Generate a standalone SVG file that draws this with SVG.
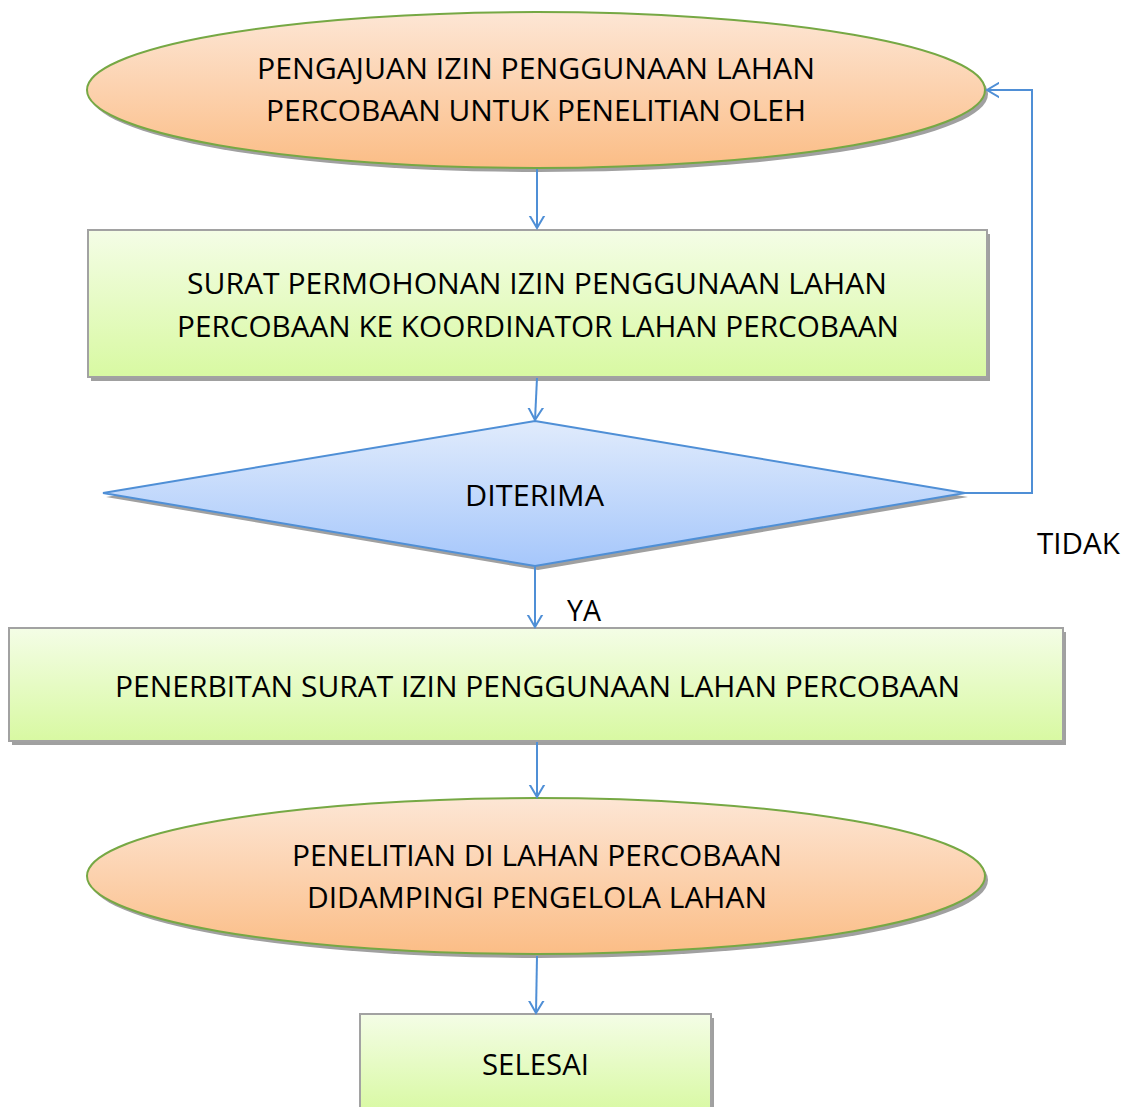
<svg xmlns="http://www.w3.org/2000/svg" width="1126" height="1107" viewBox="0 0 1126 1107">
<style>
.t{font-family:"Open Sans","Liberation Sans",sans-serif;font-size:29px;fill:#000;text-anchor:middle}
.sh{fill:#a0a0a0}
.oval{fill:url(#gO);stroke:#76a844;stroke-width:2}
.box{fill:url(#gG);stroke:#a2a2a2;stroke-width:2}
.dia{fill:url(#gB);stroke:#4f8fd6;stroke-width:2}
.c{fill:none;stroke:#4f8fd6;stroke-width:2;marker-end:url(#ah)}
</style>
<defs>
<linearGradient id="gO" x1="0" y1="0" x2="0" y2="1"><stop offset="0" stop-color="#fde6d5"/><stop offset="1" stop-color="#fbbd86"/></linearGradient>
<linearGradient id="gG" x1="0" y1="0" x2="0" y2="1"><stop offset="0" stop-color="#f4fde6"/><stop offset="1" stop-color="#d8f9a2"/></linearGradient>
<linearGradient id="gB" x1="0" y1="0" x2="0" y2="1"><stop offset="0" stop-color="#e0ebfc"/><stop offset="1" stop-color="#a6c7fb"/></linearGradient>
<marker id="ah" markerUnits="userSpaceOnUse" markerWidth="24" markerHeight="24" viewBox="-12 -12 24 24" refX="0" refY="0" orient="auto">
<path d="M-17,-10 L0,0 L-17,10" fill="none" stroke="#4f8fd6" stroke-width="2"/>
</marker>
</defs>

<g id="node-pengajuan">
<ellipse class="sh" cx="539" cy="94" rx="449" ry="78"/>
<ellipse class="oval" cx="536" cy="90" rx="449" ry="78"/>
<text class="t" x="536" y="79" textLength="558" lengthAdjust="spacingAndGlyphs">PENGAJUAN IZIN PENGGUNAAN LAHAN</text>
<text class="t" x="536" y="121" textLength="540" lengthAdjust="spacingAndGlyphs">PERCOBAAN UNTUK PENELITIAN OLEH</text>
</g>

<g id="node-surat">
<rect class="sh" x="91" y="234" width="899" height="147"/>
<rect class="box" x="88" y="230" width="899" height="147"/>
<text class="t" x="537" y="294" textLength="700" lengthAdjust="spacingAndGlyphs">SURAT PERMOHONAN IZIN PENGGUNAAN LAHAN</text>
<text class="t" x="538" y="337" textLength="722" lengthAdjust="spacingAndGlyphs">PERCOBAAN KE KOORDINATOR LAHAN PERCOBAAN</text>
</g>

<g id="node-diterima">
<polygon class="sh" points="538,425 968,497 538,570 106,497"/>
<polygon class="dia" points="535,421 965,493 535,566 103,493"/>
<text class="t" x="534.5" y="506" textLength="139" lengthAdjust="spacingAndGlyphs">DITERIMA</text>
</g>

<g id="node-penerbitan">
<rect class="sh" x="12" y="632" width="1054" height="113"/>
<rect class="box" x="9" y="628" width="1054" height="113"/>
<text class="t" x="537.5" y="697" textLength="845" lengthAdjust="spacingAndGlyphs">PENERBITAN SURAT IZIN PENGGUNAAN LAHAN PERCOBAAN</text>
</g>

<g id="node-penelitian">
<ellipse class="sh" cx="539" cy="880" rx="449" ry="78"/>
<ellipse class="oval" cx="536" cy="876" rx="449" ry="78"/>
<text class="t" x="537" y="866" textLength="490" lengthAdjust="spacingAndGlyphs">PENELITIAN DI LAHAN PERCOBAAN</text>
<text class="t" x="537" y="908" textLength="460" lengthAdjust="spacingAndGlyphs">DIDAMPINGI PENGELOLA LAHAN</text>
</g>

<g id="node-selesai">
<rect class="sh" x="363" y="1018" width="351" height="100"/>
<rect class="box" x="360" y="1014" width="351" height="100"/>
<text class="t" x="535.5" y="1075" textLength="107" lengthAdjust="spacingAndGlyphs">SELESAI</text>
</g>

<g id="connectors">
<path class="c" d="M537,169 L537,228"/>
<path class="c" d="M537,378 L535,420"/>
<path class="c" d="M535,567 L535,627"/>
<path class="c" d="M537,742 L537,797"/>
<path class="c" d="M537,956 L536,1013"/>
<path class="c" d="M965,493 L1032,493 L1032,90 L987,90"/>
<text class="t" x="1078.5" y="554" textLength="83" lengthAdjust="spacingAndGlyphs">TIDAK</text>
<text class="t" x="584" y="621" textLength="34" lengthAdjust="spacingAndGlyphs">YA</text>
</g>
</svg>
